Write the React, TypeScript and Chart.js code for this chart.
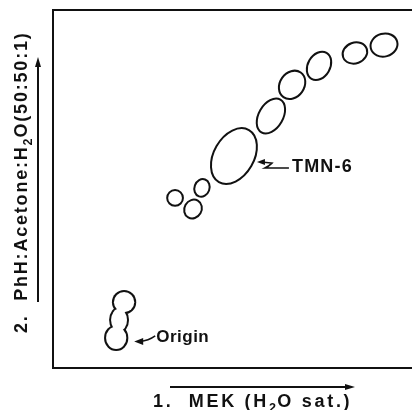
import React, { useEffect, useRef } from 'react';
import { Chart, registerables } from 'chart.js';

Chart.register(...registerables);

// Spot positions (Rf in solvent 1 = x, Rf in solvent 2 = y)
const spotNames = ['a', 'b', 'c', 'TMN-6', 'e', 'f', 'g', 'h', 'i'];
const spotRf1 = [0.34, 0.39, 0.415, 0.504, 0.607, 0.666, 0.741, 0.841, 0.922];
const spotRf2 = [0.475, 0.444, 0.503, 0.592, 0.704, 0.791, 0.844, 0.88, 0.902];
const spotMajor = [0.022, 0.027, 0.025, 0.084, 0.053, 0.042, 0.042, 0.035, 0.038];
const spotMinor = [0.022, 0.024, 0.021, 0.056, 0.034, 0.034, 0.031, 0.029, 0.032];
const spotAngle = [0, -60, -70, -60, -60, -55, -60, -20, -15];

// Origin blob (union of three lobes)
const originRf1 = [0.176, 0.184, 0.198];
const originRf2 = [0.084, 0.134, 0.184];
const originRx = [0.031, 0.025, 0.031];
const originRy = [0.034, 0.034, 0.031];

type Seg = { t: string; sub?: boolean };
const xAxisLabel: Seg[] = [{ t: '1.  MEK (H' }, { t: '2', sub: true }, { t: 'O sat.)' }];
const yAxisLabel: Seg[] = [{ t: '2.  PhH:Acetone:H' }, { t: '2', sub: true }, { t: 'O(50:50:1)' }];
const labelTMN = 'TMN-6';
const labelOrigin = 'Origin';

const INK = '#111';
const FONT_FAMILY = '"Liberation Sans", Arial, Helvetica, sans-serif';

function setFont(ctx: CanvasRenderingContext2D, size: number, spacing: number) {
  ctx.font = `bold ${size}px ${FONT_FAMILY}`;
  (ctx as any).letterSpacing = `${spacing}px`;
}

function drawRich(ctx: CanvasRenderingContext2D, segs: Seg[], x: number, y: number, size: number, spacing: number) {
  let cx = x;
  segs.forEach((s) => {
    if (s.sub) {
      setFont(ctx, size * 0.7, spacing * 0.5);
      ctx.fillText(s.t, cx, y + size * 0.3);
      cx += ctx.measureText(s.t).width;
    } else {
      setFont(ctx, size, spacing);
      ctx.fillText(s.t, cx, y);
      cx += ctx.measureText(s.t).width;
    }
  });
}

function arrowHead(ctx: CanvasRenderingContext2D, x: number, y: number, angle: number, len: number, half: number) {
  ctx.save();
  ctx.translate(x, y);
  ctx.rotate(angle);
  ctx.beginPath();
  ctx.moveTo(0, 0);
  ctx.lineTo(-len, -half);
  ctx.lineTo(-len, half);
  ctx.closePath();
  ctx.fill();
  ctx.restore();
}

const spotPlugin = {
  id: 'tlcSpots',
  afterDatasetsDraw(chart: any) {
    const ctx: CanvasRenderingContext2D = chart.ctx;
    const xs = chart.scales.x;
    const ys = chart.scales.y;
    const kx = Math.abs(xs.getPixelForValue(1) - xs.getPixelForValue(0));
    const ky = Math.abs(ys.getPixelForValue(1) - ys.getPixelForValue(0));
    ctx.save();
    ctx.strokeStyle = INK;
    ctx.lineWidth = 2;
    const meta = chart.getDatasetMeta(0);
    meta.data.forEach((pt: any, i: number) => {
      ctx.beginPath();
      ctx.ellipse(pt.x, pt.y, spotMajor[i] * ky, spotMinor[i] * ky, (spotAngle[i] * Math.PI) / 180, 0, Math.PI * 2);
      ctx.stroke();
    });
    const m2 = chart.getDatasetMeta(1);
    ctx.fillStyle = INK;
    m2.data.forEach((pt: any, i: number) => {
      ctx.beginPath();
      ctx.ellipse(pt.x, pt.y, originRx[i] * kx + 1, originRy[i] * ky + 1, 0, 0, Math.PI * 2);
      ctx.fill();
    });
    ctx.fillStyle = '#fff';
    m2.data.forEach((pt: any, i: number) => {
      ctx.beginPath();
      ctx.ellipse(pt.x, pt.y, originRx[i] * kx - 1, originRy[i] * ky - 1, 0, 0, Math.PI * 2);
      ctx.fill();
    });
    ctx.restore();
  },
  afterDraw(chart: any) {
    const ctx: CanvasRenderingContext2D = chart.ctx;
    const area = chart.chartArea;
    ctx.save();
    ctx.fillStyle = INK;
    ctx.strokeStyle = INK;
    ctx.lineWidth = 2;
    ctx.textBaseline = 'alphabetic';
    ctx.textAlign = 'left';

    // TMN-6 label and leader
    const tmn = chart.getDatasetMeta(0).data[3];
    const tx = tmn.x;
    const ty = tmn.y;
    ctx.lineWidth = 1.6;
    ctx.beginPath();
    ctx.moveTo(tx + 27, ty + 6);
    ctx.lineTo(tx + 38, ty + 7);
    ctx.quadraticCurveTo(tx + 35, ty + 10, tx + 31, ty + 12);
    ctx.lineTo(tx + 55, ty + 12);
    ctx.stroke();
    arrowHead(ctx, tx + 23, ty + 6, Math.PI, 8, 3);
    setFont(ctx, 18, 1.2);
    ctx.fillText(labelTMN, tx + 58, ty + 16);

    // Origin label and leader
    const org = chart.getDatasetMeta(1).data[0];
    const ox = org.x;
    const oy = org.y;
    ctx.beginPath();
    ctx.moveTo(ox + 24, oy + 3.5);
    ctx.quadraticCurveTo(ox + 32, oy + 3, ox + 39, oy - 2);
    ctx.stroke();
    arrowHead(ctx, ox + 18, oy + 3.5, Math.PI, 9, 3.5);
    setFont(ctx, 17, 0.5);
    ctx.fillText(labelOrigin, ox + 40, oy + 4);

    // X axis title and arrow
    ctx.lineWidth = 2;
    const xl = area.left + 117;
    const xr = area.left + 302;
    const ay = area.bottom + 19;
    ctx.beginPath();
    ctx.moveTo(xl, ay);
    ctx.lineTo(xr - 6, ay);
    ctx.stroke();
    arrowHead(ctx, xr, ay, 0, 10, 3);
    drawRich(ctx, xAxisLabel, area.left + 100, area.bottom + 39, 18, 2.7);

    // Y axis title and arrow
    const axx = area.left - 15;
    ctx.beginPath();
    ctx.moveTo(axx, area.top + 292);
    ctx.lineTo(axx, area.top + 54);
    ctx.stroke();
    arrowHead(ctx, axx, area.top + 47, -Math.PI / 2, 10, 3);
    ctx.save();
    ctx.translate(area.left - 26, area.top + 323);
    ctx.rotate(-Math.PI / 2);
    drawRich(ctx, yAxisLabel, 0, 0, 18, 1.8);
    ctx.restore();

    ctx.restore();
  },
};

export default function App() {
  const ref = useRef<HTMLCanvasElement | null>(null);
  useEffect(() => {
    if (!ref.current) return;
    const axisBase = {
      type: 'linear' as const,
      min: 0,
      max: 1,
      ticks: { display: false },
      grid: { display: false, drawTicks: false, tickLength: 0 },
      border: { display: true, color: INK, width: 2 },
    };
    const chart = new Chart(ref.current, {
      type: 'scatter',
      data: {
        datasets: [
          {
            label: 'Spots',
            data: spotRf1.map((x, i) => ({ x, y: spotRf2[i], name: spotNames[i] })),
            pointRadius: 0,
            pointHoverRadius: 0,
            showLine: false,
          },
          {
            label: 'Origin',
            data: originRf1.map((x, i) => ({ x, y: originRf2[i] })),
            pointRadius: 0,
            pointHoverRadius: 0,
            showLine: false,
          },
        ],
      },
      options: {
        responsive: false,
        animation: false,
        events: [],
        layout: { padding: { left: 53, top: 10, right: 0, bottom: 42 } },
        plugins: { legend: { display: false }, tooltip: { enabled: false } },
        scales: {
          x: { ...axisBase, position: 'bottom' },
          x2: { ...axisBase, position: 'top' },
          y: { ...axisBase, position: 'left' },
        },
      },
      plugins: [spotPlugin],
    });
    return () => chart.destroy();
  }, []);
  return (
    <div style={{ position: 'absolute', left: 0, top: 0, width: 412, height: 410, background: '#fff' }}>
      <canvas ref={ref} width={412} height={410} style={{ display: 'block', width: 412, height: 410 }} />
    </div>
  );
}
